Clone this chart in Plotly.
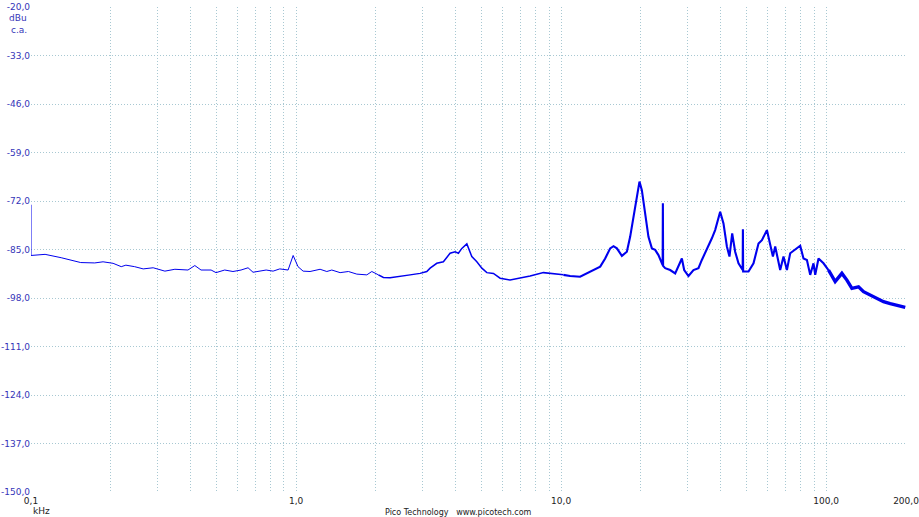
import plotly.graph_objects as go

# ---- data (frequency in kHz, level in dBu) ----
freq_khz = [
    0.1, 0.1, 0.113, 0.130, 0.154, 0.174, 0.187, 0.204, 0.219, 0.228, 0.246, 0.265, 0.289,
    0.320, 0.349, 0.391, 0.415, 0.438, 0.478, 0.499, 0.538, 0.578, 0.620, 0.659, 0.688,
    0.738, 0.771, 0.819, 0.868, 0.933, 0.975, 1.017, 1.063, 1.129, 1.232, 1.306, 1.364,
    1.466, 1.576, 1.695, 1.849, 1.931, 2.045,
    2.136, 2.263, 2.469, 2.693, 2.937, 3.113, 3.204, 3.395, 3.596, 3.811, 3.981, 4.097,
    4.220, 4.408, 4.603, 4.808, 5.022, 5.244, 5.554, 5.886, 6.420, 7.003, 7.638, 8.575,
    9.352, 10.20,
    10.81, 11.79, 12.87, 14.04, 14.66, 15.31, 15.76, 16.23, 16.95, 17.70, 18.21, 18.74,
    19.31, 19.75, 20.16, 20.75, 21.35, 22.00, 22.63, 23.29, 23.99, 24.15, 24.20, 24.25,
    24.69, 25.78, 26.93, 27.71, 28.54, 29.12, 30.23, 31.57, 32.97, 33.95, 35.46, 37.04,
    38.11, 39.81, 40.97, 42.20, 43.16, 44.19, 45.35, 46.68, 48.40, 48.50, 48.60, 50.92,
    53.18, 55.54, 57.21, 59.74, 61.49, 62.95, 64.21, 66.07, 67.05, 69.01, 71.08, 73.15,
    76.39, 79.78, 82.10, 84.57, 87.03, 89.56, 90.90, 93.53, 97.68, 102.0,
    108.1, 114.6, 119.7, 125.0, 132.4, 138.3, 146.6, 155.4, 164.5, 174.4, 184.9, 198.7,
]
level_dbu = [
    -73.0, -86.6, -86.3, -87.2, -88.5, -88.6, -88.3, -88.7, -89.6, -89.2, -89.6, -90.2, -89.9,
    -90.8, -90.3, -90.5, -89.3, -90.5, -90.5, -91.2, -90.5, -90.9, -90.5, -89.9, -91.1,
    -90.8, -90.5, -90.8, -90.2, -90.5, -86.6, -89.6, -90.8, -90.9, -90.3, -90.9, -90.5,
    -91.2, -90.9, -91.6, -91.8, -90.9, -91.8,
    -92.5, -92.6, -92.3, -91.8, -91.4, -90.9, -90.0, -88.7, -88.3, -86.0, -85.6, -86.0,
    -84.7, -83.5, -86.9, -88.3, -90.0, -91.2, -91.4, -92.7, -93.2, -92.7, -92.1, -91.2,
    -91.4, -91.8,
    -92.1, -92.3, -90.9, -89.6, -87.4, -84.7, -84.1, -84.7, -86.7, -85.6, -81.6, -76.2,
    -70.8, -66.8, -69.1, -75.3, -81.6, -84.7, -85.1, -86.5, -88.7, -89.2, -72.6, -89.4,
    -90.0, -90.5, -91.4, -89.6, -87.4, -90.5, -92.1, -90.5, -90.0, -87.8, -85.1, -82.0,
    -79.8, -74.9, -78.0, -84.2, -86.9, -80.7, -85.6, -88.7, -90.5, -79.6, -90.9, -90.9,
    -88.7, -83.4, -82.5, -79.8, -83.4, -86.9, -84.2, -87.8, -90.5, -86.9, -90.5, -86.0,
    -85.1, -84.0, -87.4, -87.8, -91.8, -88.7, -91.8, -87.4, -88.7, -90.5,
    -93.6, -91.4, -93.2, -95.4, -95.0, -96.3, -97.2, -98.1, -99.0, -99.5, -99.9, -100.5,
]

y_tick_vals = [-150, -137, -124, -111, -98, -85, -72, -59, -46, -33, -20]
y_tick_text = ["-150,0", "-137,0", "-124,0", "-111,0", "-98,0", "-85,0",
               "-72,0", "-59,0", "-46,0", "-33,0", "-20,0"]
x_major_vals = [0.1, 1, 10, 100, 200]
x_major_text = ["0,1", "1,0", "10,0", "100,0", "200,0"]
x_minor_vals = [0.2, 0.3, 0.4, 0.5, 0.6, 0.7, 0.8, 0.9,
                2, 3, 4, 5, 6, 7, 8, 9,
                20, 30, 40, 50, 60, 70, 80, 90]

# trace drawn in pieces so the noisier high-frequency part looks thicker
segment_edges = [0.1, 2.045, 10.20, 102.0, 200.0]
segment_widths = [1.0, 1.5, 2.1, 3.4]

GRID = "#a8c8d2"
FONT = "DejaVu Sans"
BLUE_TXT = "#3535b8"

fig = go.Figure()
n = len(freq_khz)
for s in range(len(segment_widths)):
    lo, hi = segment_edges[s], segment_edges[s + 1]
    idx = [i for i in range(n) if lo <= freq_khz[i] <= hi]
    fig.add_trace(go.Scatter(
        x=[freq_khz[i] for i in idx],
        y=[level_dbu[i] for i in idx],
        mode="lines",
        line=dict(color="#0000ee", width=segment_widths[s]),
        showlegend=False,
        hoverinfo="skip",
    ))

tick_vals = x_major_vals + x_minor_vals
tick_text = x_major_text + [""] * len(x_minor_vals)

fig.update_layout(
    width=919, height=517,
    margin=dict(l=31, r=13, t=7, b=25, autoexpand=False),
    paper_bgcolor="white", plot_bgcolor="white",
    font=dict(family=FONT, size=9, color="#222222"),
    xaxis=dict(
        type="log",
        range=[-1, 2.30104],
        tickvals=tick_vals, ticktext=tick_text,
        showgrid=True, gridcolor=GRID, griddash="1px,2px", gridwidth=1,
        zeroline=False, showline=False, ticks="", automargin=False,
        ticklabeloverflow="allow", ticklabelstandoff=2,
        tickfont=dict(family=FONT, size=9, color="#222222"),
    ),
    yaxis=dict(
        range=[-150, -20],
        tickvals=y_tick_vals, ticktext=y_tick_text,
        showgrid=True, gridcolor=GRID, griddash="1px,2px", gridwidth=1,
        zeroline=False, showline=False, ticks="", automargin=False,
        ticklabeloverflow="allow",
        tickfont=dict(family=FONT, size=9, color=BLUE_TXT),
    ),
    annotations=[
        dict(text="dBu", xref="paper", yref="paper", x=0, y=1, xanchor="right",
             yanchor="middle", xshift=-2, yshift=-11, showarrow=False,
             font=dict(family=FONT, size=9, color=BLUE_TXT)),
        dict(text="c.a.", xref="paper", yref="paper", x=0, y=1, xanchor="right",
             yanchor="middle", xshift=-2, yshift=-23, showarrow=False,
             font=dict(family=FONT, size=9, color=BLUE_TXT)),
        dict(text="kHz", xref="paper", yref="paper", x=0, y=0, xanchor="left",
             yanchor="middle", xshift=0, yshift=-19, showarrow=False,
             font=dict(family=FONT, size=9, color="#222222")),
        dict(text="Pico Technology   www.picotech.com", xref="paper", yref="paper",
             x=0.488, y=0, xanchor="center", yanchor="middle", yshift=-20,
             showarrow=False, font=dict(family=FONT, size=8, color="#222222")),
    ],
)

fig.write_html(
    "out.html",
    config={"displayModeBar": False},
    post_script="document.body.style.margin='0';document.body.style.overflow='hidden';",
)
